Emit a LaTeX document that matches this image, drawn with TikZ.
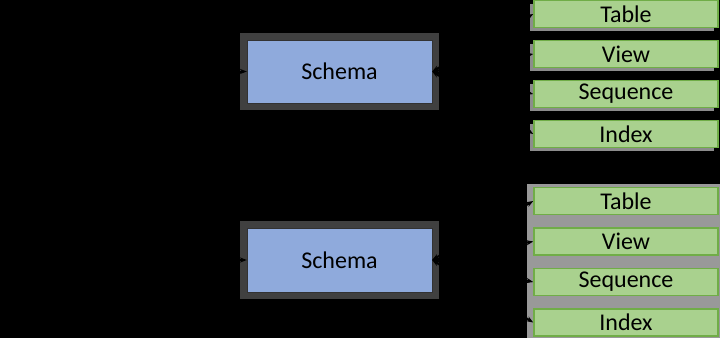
\documentclass[tikz,border=0pt]{standalone}
\usepackage{fontspec}
\setmainfont{Carlito}
\usetikzlibrary{positioning,arrows.meta}

\definecolor{schemablue}{HTML}{8FAADC}
\definecolor{objgreen}{HTML}{A9D18E}
\definecolor{objedge}{HTML}{70AD47}

\begin{document}
\begin{tikzpicture}
        [x=1pt,y=-1pt,
         schema/.style={draw=black!80,fill=schemablue,minimum width=185pt,minimum height=63pt,
           inner sep=0,font=\fontsize{24}{26}\selectfont,preaction={draw=black!75,line width=14pt}},
         obj/.style={draw=objedge,line width=1.5pt,fill=objgreen,minimum width=184pt,minimum height=27pt,
           inner sep=0,font=\fontsize{24}{26}\selectfont},
         shadowed/.style={preaction={fill=black!45,draw=none,transform canvas={xshift=-4pt,yshift=-3pt}}},
         link/.style={black,line width=2pt,{Stealth[length=7pt]}-{Stealth[length=7pt]}},
         feed/.style={black,line width=2pt,-{Stealth[length=7pt]}}]

        % page
        \fill[black] (0,0) rectangle (720,338);
        \useasboundingbox (0,0) rectangle (720,338);
        \fill[black!40] (527,184) rectangle (720,338);

        % schemas
        \node[schema] (s1) at (339.5,71.5) {Schema};
        \node[schema,minimum height=64pt] (s2) at (339.5,260) {Schema};
        \coordinate (in1) at (150,71.5);
        \coordinate (in2) at (150,260);

        % objects of the first schema
        \node[obj,shadowed] (table1) at (626,14) {Table};
        \node[obj,shadowed,below=11.5pt of table1] (view1) {View};
        \node[obj,shadowed,below=11.5pt of view1] (seq1) {Sequence};
        \node[obj,shadowed,below=11.5pt of seq1] (index1) {Index};

        % objects of the second schema
        \node[obj] (table2) at (626,201) {Table};
        \node[obj,below=12pt of table2] (view2) {View};
        \node[obj,below=12pt of view2] (seq2) {Sequence};
        \node[obj,below=12pt of seq2] (index2) {Index};

        \draw[feed] (in1) -- (s1);
        \draw[feed] (in2) -- (s2);
        \foreach \o in {table1,view1,seq1,index1}
          \draw[link] (s1.east) -- (\o.west);
        \foreach \o in {table2,view2,seq2,index2}
          \draw[link] (s2.east) -- (\o.west);

      \end{tikzpicture}
\end{document}
